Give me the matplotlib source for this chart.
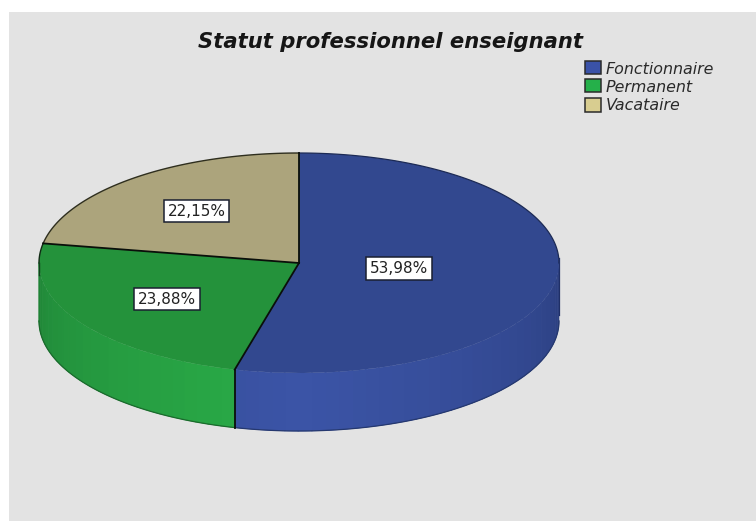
import numpy as np
import matplotlib
matplotlib.use("Agg")
import matplotlib.pyplot as plt
from matplotlib.patches import Rectangle
from matplotlib.colors import to_rgb

plt.rcParams['font.family'] = ['DejaVu Sans']

categories = ['Fonctionnaire', 'Permanent', 'Vacataire']
values = [53.98, 23.88, 22.15]
value_labels = ['53,98%', '23,88%', '22,15%']
title = 'Statut professionnel enseignant'
top_colors = ['#32488f', '#24923b', '#aca47c']
legend_colors = ['#3a52a8', '#25b04a', '#d8cd90']
side_light = ['#3b54a6', '#2aac48', '#c0b68a']
side_dark = ['#2a3d7c', '#1f8236', '#8f8763']
bottom_edge = ['#25386f', '#1a6a2c', '#555555']

W, H = 756, 521
fig = plt.figure(figsize=(W / 100, H / 100), dpi=100, facecolor='white')

# page background
bg = fig.add_axes([0, 0, 1, 1], xlim=(0, W), ylim=(H, 0))
bg.axis('off')
bg.add_patch(Rectangle((9, 12), W - 9, H - 12, fc='#e3e3e3', ec='none'))

# ellipse geometry (pixels)
cx, cy, rx, ry, depth = 299, 263, 260, 110, 58

ax = fig.add_axes([0, 0, 1, 1], facecolor='none')
wedges, _ = ax.pie(values, colors=top_colors, startangle=90, counterclock=False,
                   wedgeprops=dict(linewidth=0))
for w in wedges:
    w.set_zorder(5)
ax.set_aspect('auto')
ax.set_xlim(-cx / rx, (W - cx) / rx)
ax.set_ylim(-(H - cy) / ry, cy / ry)
d = depth / ry

# side wall, front half only
fracs = np.cumsum([0] + values) / sum(values) * 360
peak = 180.0
for i in range(len(values)):
    a0, a1 = fracs[i], fracs[i + 1]
    if a0 >= 270:
        continue
    a0, a1 = max(a0, 90), min(a1, 270)
    edges = np.arange(a0, a1 + 3, 3.0)
    edges[-1] = a1
    edges = edges[edges <= a1]
    for t0, t1 in zip(edges[:-1], edges[1:]):
        f = np.clip(1 - abs((t0 + t1) / 2 - peak) / 90, 0, 1) ** 0.7
        col = np.array(to_rgb(side_dark[i])) * (1 - f) + np.array(to_rgb(side_light[i])) * f
        tt = np.radians(np.linspace(t0, t1 + 0.3, 6))
        xs = np.sin(tt)
        ys = np.cos(tt)
        ax.fill(np.r_[xs, xs[::-1]], np.r_[ys, ys[::-1] - d], color=col, lw=0.4, zorder=2)
    tt = np.radians(np.linspace(a0, a1, 80))
    ax.plot(np.sin(tt), np.cos(tt) - d, color=bottom_edge[i], lw=0.9, zorder=3)

# outlines
tt = np.radians(np.linspace(fracs[0], 90, 100))
ax.plot(np.sin(tt), np.cos(tt), color='#1c2a55', lw=0.9, zorder=6)
tt = np.radians(np.linspace(fracs[2], 360, 100))
ax.plot(np.sin(tt), np.cos(tt), color='#2e2e1e', lw=1.0, zorder=6)
tt = np.radians(np.linspace(fracs[2], 270, 20))
ax.plot(np.sin(tt), np.cos(tt), color='#102a14', lw=1.0, zorder=6)
ax.plot([-1, -1], [0, -0.11], color='#12401c', lw=1.0, zorder=6)
ax.plot([1, 1], [0.05, -d * 0.9], color='#1f2f66', lw=0.9, zorder=6)
for a in fracs[:3]:
    t = np.radians(a)
    ax.plot([0, np.sin(t)], [0, np.cos(t)], color='#0a0f0a', lw=1.3, zorder=7)
t = np.radians(fracs[1])
ax.plot([np.sin(t)] * 2, [np.cos(t), np.cos(t) - d], color='#0a0f0a', lw=1.3, zorder=7)

# value labels
label_px = [(399, 268.5), (167, 299), (196.5, 211)]
for txt, (lx, ly) in zip(value_labels, label_px):
    ax.text((lx - cx) / rx, (cy - ly) / ry, txt, ha='center', va='center', fontsize=11, color='#222222',
            zorder=10, bbox=dict(boxstyle='square,pad=0.26', fc='white', ec='#1a1f30', lw=1.1))

# title
bg.text(391, 48, title, ha='center', va='baseline', fontsize=15.2, style='italic',
        weight='bold', color='#161616')

# legend
leg_y = [67, 85, 104.5]
base_y = [74, 92, 110]
for name, col, y, b in zip(categories, legend_colors, leg_y, base_y):
    bg.add_patch(Rectangle((584.5, y - 6.5), 16, 13.5, fc=col, ec='#2a2a2a', lw=1.1))
    bg.text(606, b, name, ha='left', va='baseline', fontsize=11.4, style='italic', color='#2a2a2a')

fig.savefig('out.png', dpi=100, facecolor='white')
